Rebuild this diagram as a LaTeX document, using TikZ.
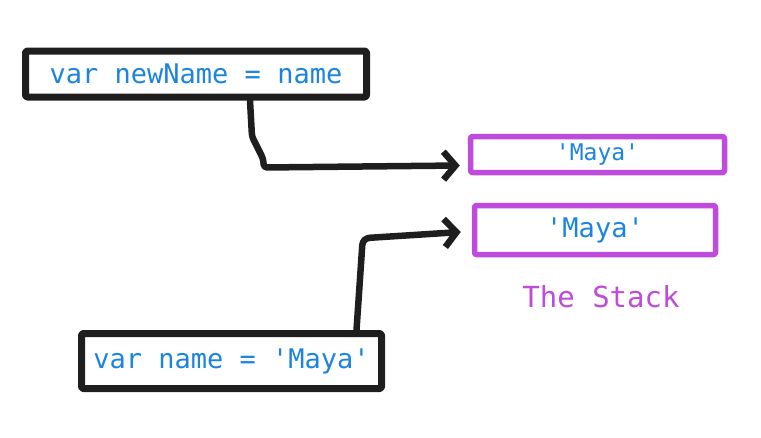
\documentclass[tikz,border=0pt]{standalone}
\usepackage{fontspec}
\setmonofont{DejaVu Sans Mono}
\usetikzlibrary{arrows.meta}
\definecolor{inkblack}{HTML}{1E1E1E}
\definecolor{codeblue}{HTML}{1C84E0}
\definecolor{stackpink}{HTML}{BE4BDB}
\tikzset{
  codebox/.style={draw=inkblack, line width=7pt, line join=round, rounded corners=2pt,
    text=codeblue, font=\ttfamily\fontsize{27}{30}\selectfont, inner sep=0pt, fill=white},
  stackbox/.style={draw=stackpink, line width=5.5pt, line join=round, rounded corners=2pt,
    text=codeblue, inner sep=0pt, fill=white},
  link/.style={draw=inkblack, line width=6.5pt, line cap=round, line join=round, rounded corners=3pt,
    -{Straight Barb[length=12pt,width=28pt,line width=6.5pt]}}
}
\begin{document}
\begin{tikzpicture}[x=1pt,y=-1pt]
\useasboundingbox (0,0) rectangle (761,437);
\node[codebox, minimum width=341pt, minimum height=46pt] (newname) at (196,74) {var newName = name};
\node[stackbox, minimum width=254pt, minimum height=36pt, font=\ttfamily\fontsize{23}{26}\selectfont] (m1) at (597.5,154.5) {'Maya'\hspace{32pt}};
\node[stackbox, minimum width=241pt, minimum height=49pt, font=\ttfamily\fontsize{27}{30}\selectfont] (m2) at (595,230) {'Maya'\hspace{8pt}};
\node[text=stackpink, font=\ttfamily\fontsize{29}{32}\selectfont, inner sep=0pt] (stack) at (601,297) {The Stack};
\node[codebox, minimum width=300pt, minimum height=55pt] (name) at (231.5,361) {var name = 'Maya'};
\draw[link] ([xshift=54pt]newname.south) -- ++(2,36) -- ++(11,22) -- ++(1,9) -- ([xshift=-8pt,yshift=-11pt]m1.west);
\draw[link] ([xshift=125pt]name.north) -- ++(6,-88) -- ++(4,-4) -- ([xshift=-11pt,yshift=-2pt]m2.west);
\end{tikzpicture}
\end{document}
